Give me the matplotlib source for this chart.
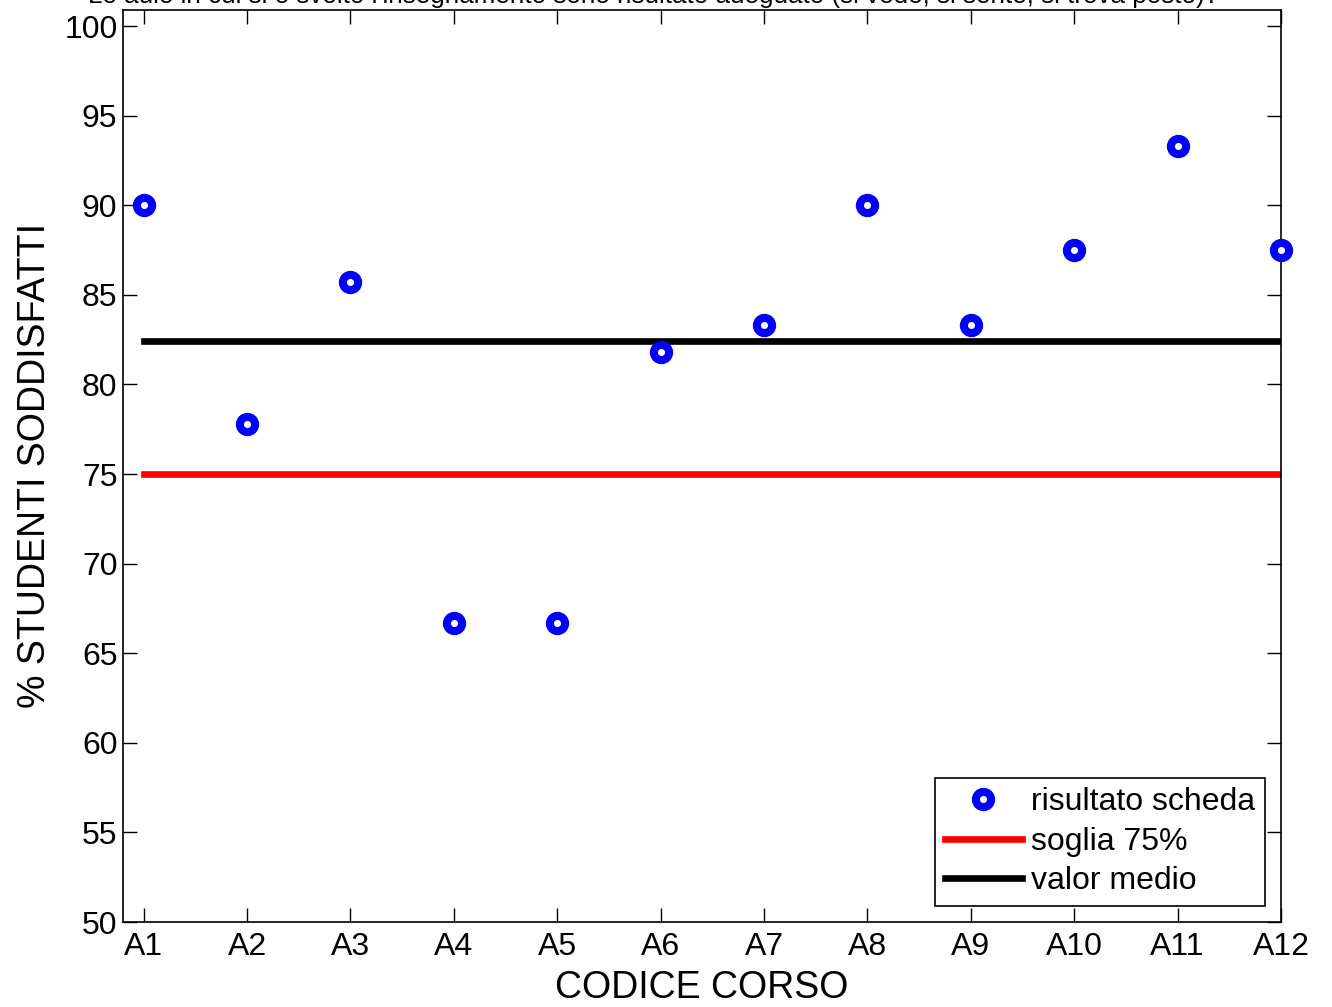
import matplotlib
matplotlib.use("Agg")
import matplotlib.pyplot as plt

plt.rcParams['font.family'] = ['Liberation Sans', 'DejaVu Sans']

corsi = ["A1", "A2", "A3", "A4", "A5", "A6", "A7", "A8", "A9", "A10", "A11", "A12"]
soddisfatti = [90.0, 77.8, 85.7, 66.7, 66.7, 81.8, 83.3, 90.0, 83.3, 87.5, 93.3, 87.5]
soglia = 75
valor_medio = 82.4
titolo = "Le aule in cui si è svolto l'insegnamento sono risultato adeguato (si vede, si sente, si trova posto)?"

fig = plt.figure(figsize=(13.32, 10.07), dpi=100)
ax = fig.add_axes([123/1332, 85/1007, (1281-123)/1332, (922-10)/1007])

x = list(range(1, len(corsi) + 1))
ax.plot(x, soddisfatti, 'o', color='blue', markerfacecolor='white',
        markeredgecolor='blue', markersize=11, markeredgewidth=5.8,
        linestyle='none', label='risultato scheda', zorder=3, clip_on=False)
ax.plot([x[0], x[-1]], [soglia, soglia], color='red', lw=4.8, label='soglia 75%')
ax.plot([x[0], x[-1]], [valor_medio, valor_medio], color='black', lw=4.8, label='valor medio')

ax.set_xlim(0.8, 12)
ax.set_ylim(50, 100.9)
ax.set_xticks(x)
ax.set_xticklabels(corsi)
ax.set_yticks(range(50, 101, 5))
ax.tick_params(direction='in', top=True, right=True, length=10, width=1,
               labelsize=23)
ax.tick_params(axis='y', pad=4)
ax.tick_params(axis='x', pad=7)
for s in ax.spines.values():
    s.set_linewidth(1.2)

ax.set_xlabel("CODICE CORSO", fontsize=27, labelpad=6)
ax.set_ylabel("% STUDENTI SODDISFATTI", fontsize=27, labelpad=8)
fig.text(653/1332, 1 - 3/1007, titolo, ha='center', va='baseline', fontsize=18.7)

leg = ax.legend(loc='lower right', fontsize=23, frameon=True, fancybox=False,
                edgecolor='black', framealpha=1, handlelength=2.4,
                borderpad=0.3, labelspacing=0.3, handletextpad=0.3,
                borderaxespad=0.5)
leg.get_frame().set_linewidth(1.2)

fig.savefig("out.png", dpi=100)
